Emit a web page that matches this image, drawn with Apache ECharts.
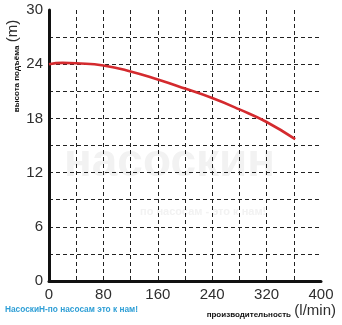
<!DOCTYPE html>
<html>
<head>
<meta charset="utf-8">
<script src="https://cdn.jsdelivr.net/npm/echarts@6/dist/echarts.min.js"></script>
<style>
  html, body { margin: 0; padding: 0; background: #fff; }
  #chart { width: 342px; height: 325px; }
</style>
</head>
<body>
<div id="chart"></div>
<script>
// Pump performance curve: head (m) versus flow (l/min)
const flowValues = [0, 20, 40, 80, 120, 160, 200, 240, 280, 320, 362];
const headValues = [24.0, 24.15, 24.1, 23.85, 23.2, 22.3, 21.3, 20.25, 19.0, 17.6, 15.7];

const xTickLabels = [0, 80, 160, 240, 320, 400];
const yTickLabels = [0, 6, 12, 18, 24, 30];

const yAxisTitle = 'высота подъёма';
const yAxisUnit = '(m)';
const xAxisTitle = 'производительность';
const xAxisUnit = '(l/min)';
const brandLine = 'НасоскиН-по насосам это к нам!';
const watermarkMain = 'насоскин';
const watermarkSub = 'по насосам - это к нам!';

const chart = echarts.init(document.getElementById('chart'), null, { renderer: 'canvas' });

const font = 'Liberation Sans, Arial, sans-serif';

chart.setOption({
  animation: false,
  backgroundColor: '#ffffff',
  grid: { left: 49, right: 21, top: 10, bottom: 44, containLabel: false },
  xAxis: {
    type: 'value',
    min: 0,
    max: 400,
    interval: 40,
    axisLine: { show: true, onZero: false, lineStyle: { color: '#111', width: 3 } },
    axisTick: { show: false },
    axisLabel: {
      margin: 6,
      fontSize: 15,
      fontFamily: font,
      color: '#2e2e2e',
      formatter: v => (xTickLabels.indexOf(v) >= 0 ? String(v) : '')
    },
    splitLine: {
      show: true,
      showMinLine: false,
      showMaxLine: false,
      lineStyle: { color: '#222', width: 1, type: [4, 3] }
    }
  },
  yAxis: {
    type: 'value',
    min: 0,
    max: 30,
    interval: 3,
    axisLine: { show: true, onZero: false, lineStyle: { color: '#111', width: 3 } },
    axisTick: { show: false },
    axisLabel: {
      margin: 6,
      fontSize: 15,
      fontFamily: font,
      color: '#2e2e2e',
      formatter: v => (yTickLabels.indexOf(v) >= 0 ? String(v) : '')
    },
    splitLine: {
      show: true,
      showMinLine: false,
      showMaxLine: false,
      lineStyle: { color: '#222', width: 1, type: [4, 3] }
    }
  },
  graphic: [
    {
      type: 'text',
      z: -10,
      left: 64,
      top: 140,
      style: {
        text: watermarkMain,
        font: 'bold 46px ' + font,
        fill: '#f2f2f2'
      }
    },
    {
      type: 'text',
      z: -10,
      left: 140,
      top: 206,
      style: {
        text: watermarkSub,
        font: 'bold 11px ' + font,
        fill: '#f2f2f2'
      }
    },
    {
      type: 'text',
      x: 13,
      y: 66,
      rotation: Math.PI / 2,
      style: {
        text: '{a|' + yAxisTitle + '} {b|' + yAxisUnit + '}',
        align: 'center',
        verticalAlign: 'middle',
        rich: {
          a: { font: 'bold 8px ' + font, fill: '#111', verticalAlign: 'bottom' },
          b: { font: '15px ' + font, fill: '#2e2e2e', verticalAlign: 'bottom' }
        }
      }
    },
    {
      type: 'text',
      x: 336,
      y: 311,
      style: {
        text: '{a|' + xAxisTitle + '} {b|' + xAxisUnit + '}',
        align: 'right',
        verticalAlign: 'middle',
        rich: {
          a: { font: 'bold 8px ' + font, fill: '#111', verticalAlign: 'bottom' },
          b: { font: '15px ' + font, fill: '#2e2e2e', verticalAlign: 'bottom' }
        }
      }
    },
    {
      type: 'text',
      x: 5,
      y: 310,
      style: {
        text: brandLine,
        font: 'bold 8.3px ' + font,
        fill: '#2f9fd6',
        verticalAlign: 'middle'
      }
    }
  ],
  series: [
    {
      type: 'line',
      data: flowValues.map((f, i) => [f, headValues[i]]),
      smooth: true,
      showSymbol: false,
      lineStyle: { color: '#d42a2e', width: 2.6 },
      z: 5
    }
  ]
});
</script>
</body>
</html>
